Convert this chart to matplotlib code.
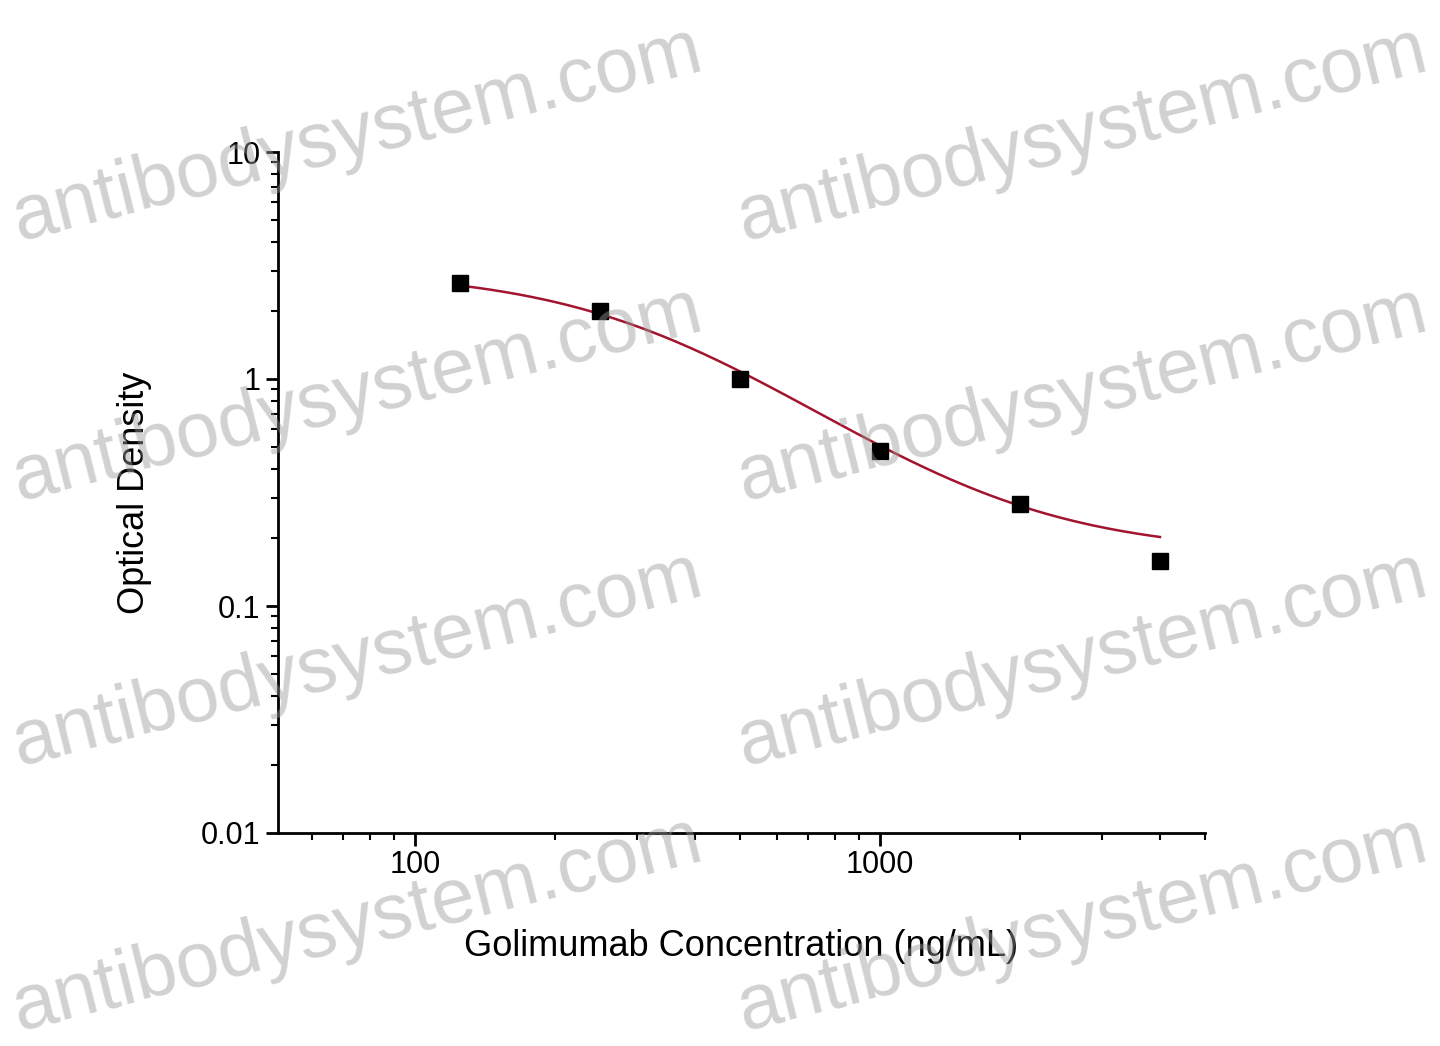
import numpy as np
import matplotlib
matplotlib.use("Agg")
import matplotlib.pyplot as plt

conc = [125, 250, 500, 1000, 2000, 4000]
od = [2.65, 2.0, 1.0, 0.48, 0.28, 0.158]
# 4PL fit parameters (top, bottom, EC50, slope)
top, bottom, ec50, slope = 3.0, 0.17, 330.0, 1.8

plt.rcParams['font.family'] = ['Liberation Sans', 'DejaVu Sans']
fig = plt.figure(figsize=(14.4, 10.46), dpi=100)
ax = fig.add_axes([278/1440, 1-833/1046, (1205-278)/1440, (833-152)/1046])
xs = np.logspace(np.log10(conc[0]), np.log10(conc[-1]), 300)
ys = (top - bottom) / (1 + (xs / ec50) ** slope) + bottom
ax.plot(xs, ys, color='#a3142e', lw=1.8, zorder=2)
ax.plot(conc, od, 's', color='black', ms=11, zorder=3)
ax.set_xscale('log'); ax.set_yscale('log')
ax.set_xlim(50.7, 5000); ax.set_ylim(0.01, 10)
ax.set_yticks([0.01, 0.1, 1, 10]); ax.set_yticklabels(['0.01', '0.1', '1', '10'])
ax.set_xticks([100, 1000]); ax.set_xticklabels(['100', '1000'])
for s in ['top', 'right']:
    ax.spines[s].set_visible(False)
for s in ['left', 'bottom']:
    ax.spines[s].set_linewidth(2)
ax.tick_params(which='major', length=9, width=2, labelsize=22)
ax.tick_params(which='minor', length=5, width=1.5)
ax.set_xlabel('Golimumab Concentration (ng/mL)', fontsize=26, labelpad=35)
ax.set_ylabel('Optical Density', fontsize=26, labelpad=35)

for (x, y) in [(5, 240), (730, 240), (5, 500), (730, 500), (5, 765), (730, 765), (5, 1030), (730, 1030)]:
    fig.text(x/1440, 1-y/1046, 'antibodysystem.com', fontsize=56, color='#9a9a9a',
             alpha=0.45, rotation=14, ha='left', va='baseline', zorder=10)
fig.savefig('out.png', dpi=100, facecolor='white')
